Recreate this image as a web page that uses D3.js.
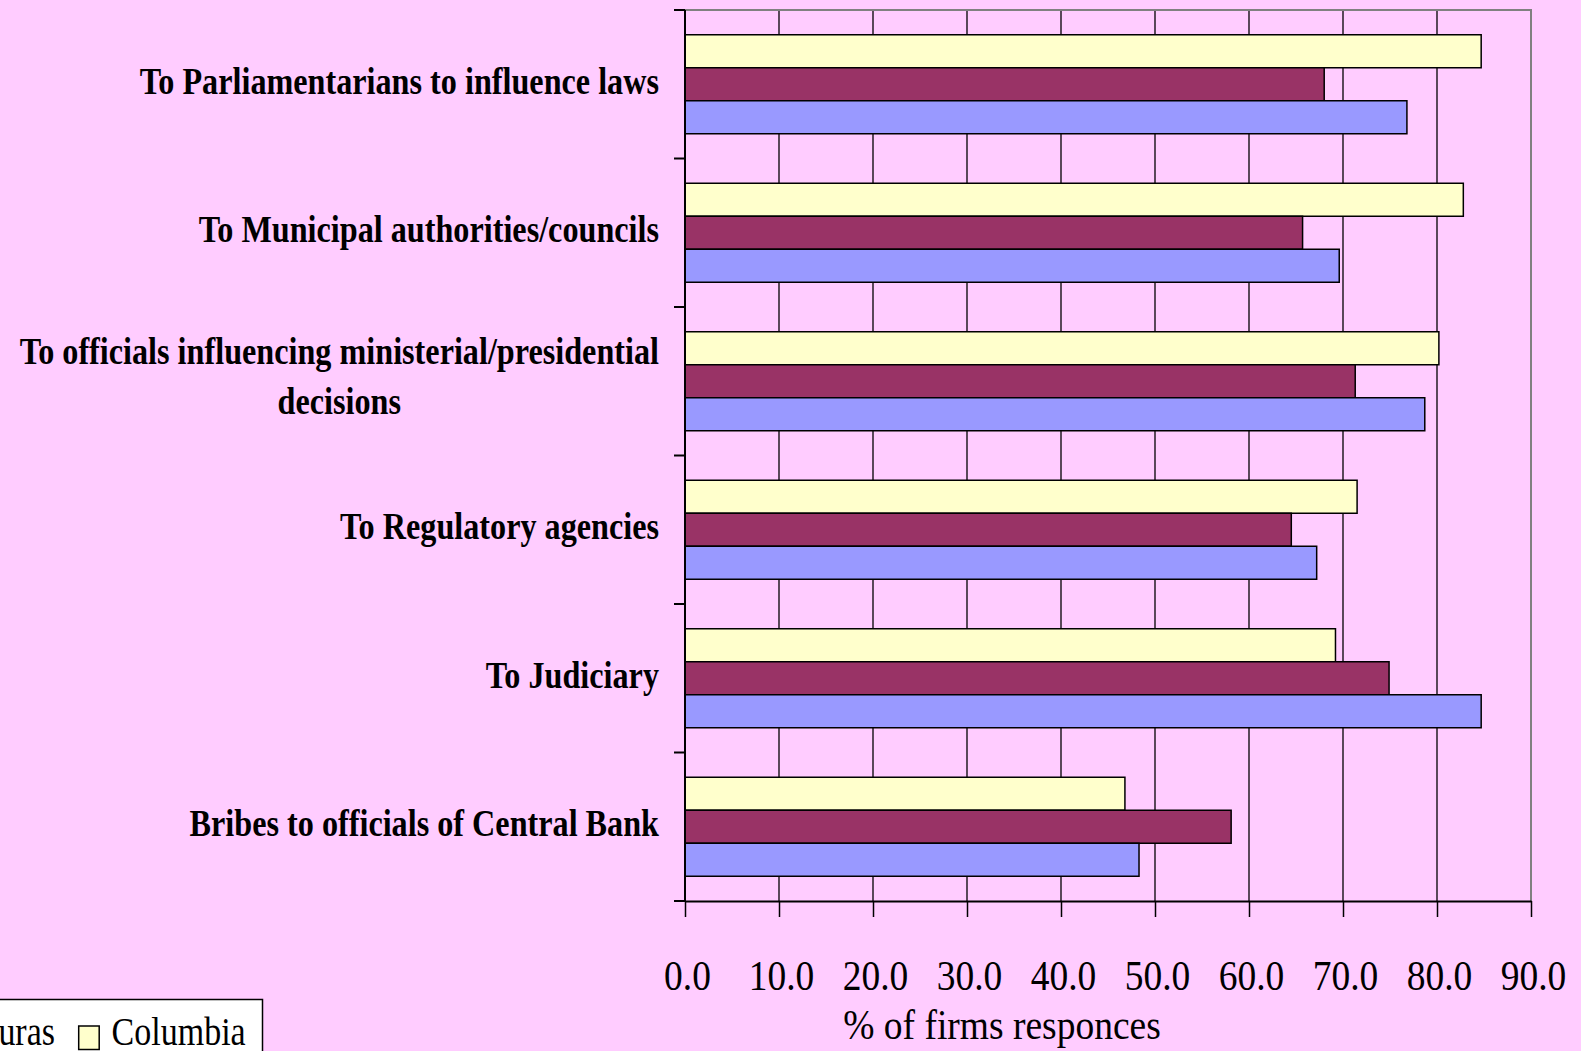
<!DOCTYPE html>
<html>
<head>
<meta charset="utf-8">
<script src="https://cdn.jsdelivr.net/npm/d3@7"></script>
<style>
  body { margin: 0; background: #FFCCFF; }
  svg { display: block; }
  text { font-family: "Liberation Serif", "Times New Roman", serif; fill: #000; }
</style>
</head>
<body>
<div id="chart"></div>
<script>
// category labels, top to bottom
const categories = [
    "To Parliamentarians to influence laws",
    "To Municipal authorities/councils",
    "To officials influencing ministerial/presidential decisions",
    "To Regulatory agencies",
    "To Judiciary",
    "Bribes to officials of Central Bank"
];

// wrapped lines for the long label
const labelLines = {
    "To officials influencing ministerial/presidential decisions": ["To officials influencing ministerial/presidential", "decisions"]
};

// legend order (first series is hidden off the left edge in the original)
const seriesNames = ["Bolivia", "Honduras", "Columbia"];
const seriesColors = ["#9999FF", "#993366", "#FFFFCC"];

// % of firms responses, same order as categories
const bolivia  = [76.8, 69.6, 78.7, 67.2, 84.7, 48.3];
const honduras = [68.0, 65.7, 71.3, 64.5, 74.9, 58.1];
const columbia = [84.7, 82.8, 80.2, 71.5, 69.2, 46.8];

const xTicks = [0, 10, 20, 30, 40, 50, 60, 70, 80, 90];
const xTitle = "% of firms responces";

const svgWidth = 1581;
const svgHeight = 1051;
const stretch = 1.15;   // text in the original is a bit tall and narrow

const plot = { left: 685, right: 1531, top: 10, bottom: 901 };

var svg = d3.select("#chart")
    .append("svg")
    .attr("width", svgWidth)
    .attr("height", svgHeight);

svg.append("rect")
    .attr("width", svgWidth)
    .attr("height", svgHeight)
    .attr("fill", "#FFCCFF");

// rows: one per category, series drawn top to bottom as Columbia, Honduras, Bolivia
var rows = categories.map((c, i) => ({
    category: c,
    values: [
        { name: "Columbia", value: columbia[i] },
        { name: "Honduras", value: honduras[i] },
        { name: "Bolivia", value: bolivia[i] }
    ]
}));

var x = d3.scaleLinear()
    .domain([0, 90])
    .range([plot.left, plot.right]);

// gap width 150% -> 1.5 bars of space per 4.5 bars
var y0 = d3.scaleBand()
    .domain(categories)
    .range([plot.top, plot.bottom])
    .paddingInner(1.5 / 4.5)
    .paddingOuter(0.75 / 4.5);

var y1 = d3.scaleBand()
    .domain(["Columbia", "Honduras", "Bolivia"])
    .range([0, y0.bandwidth()]);

var color = d3.scaleOrdinal()
    .domain(seriesNames)
    .range(seriesColors);

// small helper for the stretched text
function stretchedText(parent, tx, ty, str, size, weight, anchor) {
    return parent.append("text")
        .attr("transform", `translate(${tx},${ty}) scale(1,${stretch})`)
        .attr("font-size", size)
        .attr("font-weight", weight)
        .attr("text-anchor", anchor)
        .text(str);
}

// ------- GRID --------
svg.append("g")
    .selectAll("line")
    .data(xTicks.filter(d => d > 0 && d < 90))
    .enter()
    .append("line")
    .attr("x1", d => x(d))
    .attr("x2", d => x(d))
    .attr("y1", plot.top)
    .attr("y2", plot.bottom)
    .attr("stroke", "#000")
    .attr("stroke-width", 1.3);

// gray top and right border of plot area
svg.append("path")
    .attr("d", `M${plot.left},${plot.top}H${plot.right}V${plot.bottom}`)
    .attr("fill", "none")
    .attr("stroke", "#808080")
    .attr("stroke-width", 2);

// ------- BARS --------
var groups = svg.append("g")
    .selectAll("g")
    .data(rows)
    .enter()
    .append("g")
    .attr("transform", d => `translate(0,${y0(d.category)})`);

groups.selectAll("rect")
    .data(d => d.values)
    .enter()
    .append("rect")
    .attr("x", x(0))
    .attr("y", d => y1(d.name))
    .attr("width", d => x(d.value) - x(0))
    .attr("height", y1.bandwidth())
    .attr("fill", d => color(d.name))
    .attr("stroke", "#000")
    .attr("stroke-width", 1.5);

// ------- AXES --------
var xAxis = svg.append("g")
    .attr("transform", `translate(0,${plot.bottom})`)
    .call(d3.axisBottom(x)
        .tickValues(xTicks)
        .tickFormat(d3.format(".1f"))
        .tickSize(16)
        .tickSizeOuter(0));

xAxis.select(".domain").attr("stroke-width", 2);
xAxis.selectAll(".tick line").attr("stroke-width", 1.5);
xAxis.selectAll(".tick text")
    .attr("font-family", null)
    .attr("font-size", 37.5)
    .attr("x", 2)
    .attr("y", 89 / stretch)
    .attr("dy", null)
    .attr("transform", `scale(1,${stretch})`);

// y axis line with ticks on the category boundaries
var boundaries = d3.range(categories.length + 1).map(i => plot.top + i * y0.step());

svg.append("line")
    .attr("x1", plot.left)
    .attr("x2", plot.left)
    .attr("y1", plot.top)
    .attr("y2", plot.bottom)
    .attr("stroke", "#000")
    .attr("stroke-width", 2);

svg.append("g")
    .selectAll("line")
    .data(boundaries)
    .enter()
    .append("line")
    .attr("x1", plot.left - 11)
    .attr("x2", plot.left)
    .attr("y1", d => d)
    .attr("y2", d => d)
    .attr("stroke", "#000")
    .attr("stroke-width", 2);

// ------- CATEGORY LABELS --------
var labelRight = 659;
var labelSize = 32.2;
var labelGroup = svg.append("g");

categories.forEach(function(c) {
    var cy = y0(c) + y0.bandwidth() / 2;
    var lines = labelLines[c];
    if (!lines) {
        stretchedText(labelGroup, labelRight, cy + 9.5, c, labelSize, "bold", "end");
    } else {
        // lines are centred on each other, block right-aligned
        var first = stretchedText(labelGroup, 0, 0, lines[0], labelSize, "bold", "middle");
        var w = first.node().getComputedTextLength();
        var mid = labelRight - w / 2;
        first.attr("transform", `translate(${mid},${cy - 17}) scale(1,${stretch})`);
        stretchedText(labelGroup, mid, cy + 33, lines[1], labelSize, "bold", "middle");
    }
});

// ------- AXIS TITLE --------
stretchedText(svg, 1002, 1039, xTitle, 37.5, "normal", "middle");

// ------- LEGEND --------
// box runs off the left and bottom edges, laid out from its right side
var legend = svg.append("g");

legend.append("rect")
    .attr("x", -420)
    .attr("y", 999.5)
    .attr("width", 420 + 262.5)
    .attr("height", 100)
    .attr("fill", "#fff")
    .attr("stroke", "#000")
    .attr("stroke-width", 1.5);

var swatchW = 20.5, swatchH = 23.5, swatchY = 1026;
var textGap = 12.4, itemGap = 23.7;
var legendBase = 1045;

var cursor = 78.7;  // left edge of the last swatch
for (var i = seriesNames.length - 1; i >= 0; i--) {
    legend.append("rect")
        .attr("x", cursor)
        .attr("y", swatchY)
        .attr("width", swatchW)
        .attr("height", swatchH)
        .attr("fill", seriesColors[i])
        .attr("stroke", "#000")
        .attr("stroke-width", 1.5);
    stretchedText(legend, cursor + swatchW + textGap, legendBase, seriesNames[i], 34, "normal", "start");
    if (i > 0) {
        // next item to the left ends before this swatch
        var probe = stretchedText(legend, 0, 0, seriesNames[i - 1], 34, "normal", "start");
        var prevW = probe.node().getComputedTextLength();
        probe.remove();
        cursor = cursor - itemGap - prevW - textGap - swatchW;
    }
}
</script>
</body>
</html>
